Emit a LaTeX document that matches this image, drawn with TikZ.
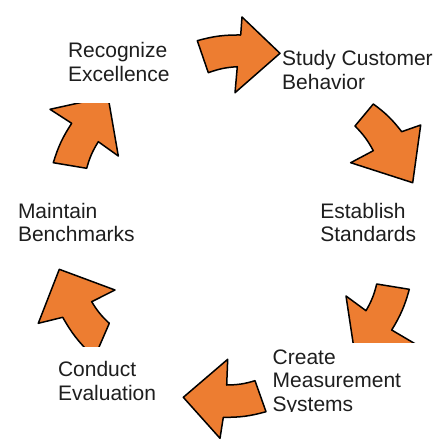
\documentclass[tikz,border=0pt]{standalone}
\usepackage{fontspec}
\setmainfont{Liberation Sans}
\definecolor{arrowfill}{RGB}{237,125,49}
\definecolor{txt}{RGB}{30,30,30}
\begin{document}
\begin{tikzpicture}[x=1pt,y=-1pt,
  blockarrow/.style={fill=arrowfill, draw=black, line width=1.5pt, line join=round},
  maskbox/.style={fill=white, draw=none},
  lbl/.style={font=\fontsize{21}{23.3}\selectfont, align=left, anchor=base west, inner sep=0pt, text=txt}]
\useasboundingbox[fill=white] (0,0) rectangle (433,440);
% arrows
\draw[blockarrow] (197.3,40.7) to[bend left=8] (240.7,35) -- (242,17) -- (280,53.3) -- (235,92.7) -- (237.3,66.7) to[bend right=8] (208.3,72.7) -- cycle;
\draw[blockarrow] (373.3,104) to[bend left=8] (401.7,131.7) -- (420.7,125) -- (412.7,182.7) -- (350.7,162.7) -- (373.3,150.7) to[bend right=8] (355,126) -- cycle;
\draw[blockarrow] (366,310.7) to[bend right=8] (376.7,284) -- (409.3,289.3) to[bend left=8] (391.7,330) -- (425,349.6) -- (356,362) -- (346,296) -- cycle;
\draw[blockarrow] (227.7,359.3) -- (226.7,385) to[bend right=8] (255,380.7) -- (266,411.7) to[bend left=8] (223.3,417.3) -- (220,438.3) -- (183.3,397.3) -- cycle;
\draw[blockarrow] (59.3,269.3) -- (115,290) -- (91.7,301.7) to[bend right=8] (109.3,323.3) -- (96,354) -- (91,354) to[bend left=8] (62.7,317.3) -- (38.3,323.3) -- cycle;
\draw[blockarrow] (50,109.3) -- (71.7,123.3) to[bend right=8] (53.3,162.7) -- (86.7,168.3) to[bend left=8] (98.3,141.7) -- (118.3,156) -- (108,96.5) -- cycle;
% text boxes
\fill[maskbox] (55,30) rectangle (195,102.7);
\fill[maskbox] (45,347) rectangle (178,425);
\fill[maskbox] (270,343) rectangle (433,440);
% labels (anchor = baseline of the last line)
\node[lbl] (recog) at (67.8,81) {Recognize\\Excellence};
\node[lbl] (study) at (282,89) {Study Customer\\Behavior};
\node[lbl] (maint) at (17.8,241.7) {Maintain\\Benchmarks};
\node[lbl] (estab) at (320.2,241.7) {Establish\\Standards};
\node[lbl] (cond) at (57.8,400) {Conduct\\Evaluation};
\node[lbl] (create) at (272.5,411.2) {Create\\Measurement\\Systems};
\fill[maskbox] (270,412.2) rectangle (400,440);
\end{tikzpicture}
\end{document}
